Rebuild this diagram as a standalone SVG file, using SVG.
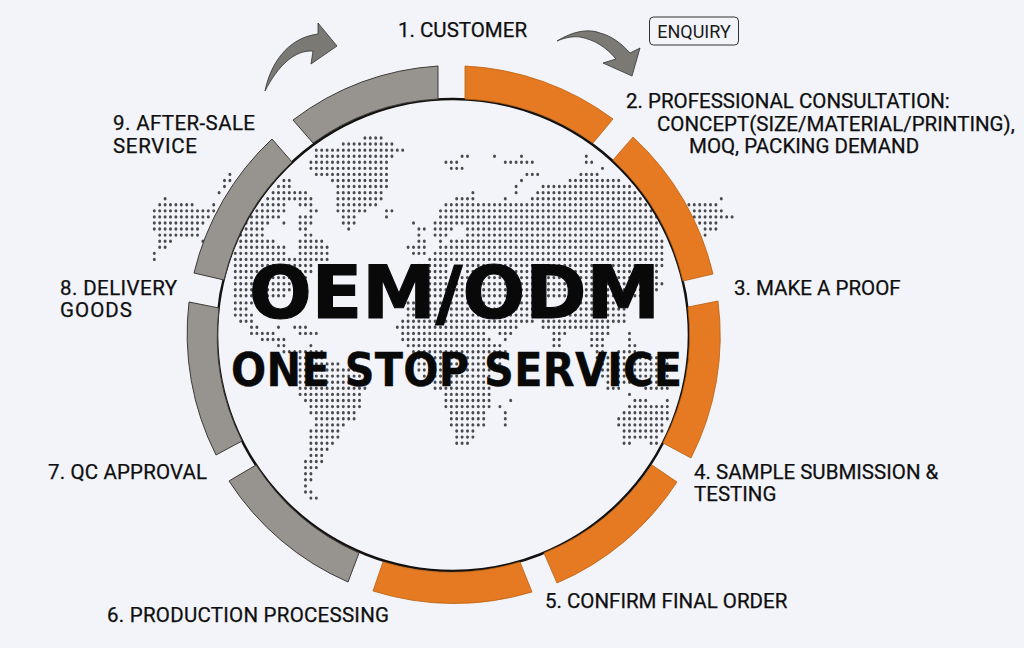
<svg xmlns="http://www.w3.org/2000/svg" width="1024" height="648" viewBox="0 0 1024 648">
<style>
.lb{font-family:Roboto,"Liberation Sans",sans-serif;font-size:20.5px;fill:#0f0f0f;stroke:#0f0f0f;stroke-width:.25}
.h{font-family:"DejaVu Sans",sans-serif;font-weight:700;fill:#090909;stroke:#090909}
.or{fill:#e67a22;stroke:#b9600f;stroke-width:.8}
.gr{fill:#97938e;stroke:#3d3a37;stroke-width:1}
.dots{fill:none;stroke:#4a4b4f;stroke-width:.56;stroke-linecap:round;stroke-dasharray:0 1}
.ar{fill:#7b7974;stroke:#333;stroke-width:.8;stroke-linejoin:miter}
</style>
<rect width="1024" height="648" fill="#f2f4f9"/>
<g id="world-map">
<path class="dots" transform="translate(3.1 131.93) scale(5.4 6.07)" d="M67 1H71M63 2H73M58 3H75M58 4H73M85 4H87M91 4H92M96 4H97M108 4H109M57 5H72M82 5H85M93 5H99M108 5H110M57 6H72M83 6H86M111 6h.1M42 7H43M58 7H72M97 7H100M107 7H111M41 8H43M52 8H54M61 8H72M96 8H97M105 8H115M41 9h.1M51 9H54M62 9H72M95 9H96M100 9H117M40 10H41M50 10H57M62 10H71M87 10H88M95 10H96M99 10H118M30 11H31M49 11H58M62 11H71M84 11H88M93 11h.1M98 11H119M133 11H134M29 12H36M39 12H40M48 12H53M55 12H58M62 12H70M82 12H120M127 12H133M28 13H40M47 13H53M57 13H59M62 13H68M71 13H73M81 13H121M128 13H134M28 14H39M46 14H52M55 14H58M63 14H66M71 14H72M81 14H122M128 14H136M28 15H38M45 15H50M52 15h.1M55 15H58M63 15H66M76 15h.1M80 15H122M129 15H133M28 16H37M45 16H49M55 16H57M64 16H65M77 16H79M80 16H84M86 16H122M130 16H133M29 17H37M44 17H49M56 17H58M77 17H78M80 17H83M86 17H122M130 17H131M29 18H32M37 18h.1M44 18H51M55 18H60M77 18H79M81 18h.1M83 18H123M29 19H31M44 19H53M55 19H61M75 19H79M81 19H123M28 20H29M43 20H53M55 20H61M76 20H79M80 20H123M28 21h.1M43 21H61M79 21H123M43 22H58M77 22H83M86 22H123M43 23H58M77 23H83M86 23H122M43 24H57M77 24H122M43 25H56M77 25H123M43 26H54M77 26H122M43 27H53M77 27H121"/>
<path class="dots" transform="translate(3.1 126) scale(5.4 6.1)" d="M43 29H47M75 29H99M107 29H116M43 30H46M75 30H99M101 30H116M43 31H47M75 31H116M44 32H47M74 32H99M100 32H116M46 33H48M51 33H52M54 33H57M73 33H96M100 33H113M46 34H51M55 34H59M74 34H90M92 34H95M102 34H105M109 34H113M116 34H117M48 35H53M74 35H91M93 35H94M102 35H104M109 35H112M116 35H117M51 36H53M57 36h.1M75 36H93M102 36H104M109 36H112M116 36H118M52 37H60M76 37H94M110 37H112M114 37H118M55 38H60M77 38H94M110 38H124M55 39H63M77 39H93M110 39H124M55 40H67M77 40H92M110 40H124M55 41H67M78 41H91M111 41H124M55 42H67M79 42H91M112 42H124M55 43H68M80 43H91M112 43H115M119 43H124M55 44H67M82 44H91M116 44H117M56 45H67M82 45H91M94 45h.1M117 45H120M123 45h.1M57 46H67M82 46H91M92 46H93M116 46H124M57 47H66M83 47H90M93 47h.1M115 47H124M58 48H66M83 48H90M93 48h.1M114 48H124M58 49H64M83 49H90M93 49h.1M114 49H123M57 50H63M84 50H88M115 50H123M57 51H63M84 51H88M115 51H122M57 52H62M84 52H87M115 52H117M120 52H122M57 53H61M57 54H60M56 55H60M56 56H59M56 57H58M56 58H58M56 59H57M56 60H58M57 61H59"/>
</g>
<circle id="hub-ring" cx="453" cy="335" r="236" fill="none" stroke="#141210" stroke-width="2.6"/>
<g id="connectors">
<path class="ar" d="M265 91C270 66 286 38 318 34L318 23L337 46L311 64L313 51C294 50 278 66 265 91Z"/>
<path class="ar" d="M557 41C575 30 590 29 600 33C612 36 622 44 630 53L640 48L632 76L603 63L616 59C606 47 595 40 580 37C572 36 564 38 557 41Z"/>
</g>
<g id="step-1"><path class="or" d="M465 66A269.5 269.5 0 0 1 613 119L593 143A236 236 0 0 0 465 99Z"/><text class="lb" x="398" y="36.5">1. CUSTOMER</text></g>
<g id="enquiry"><rect x="649.5" y="17" width="89" height="28" rx="4" fill="none" stroke="#333" stroke-width="1"/><text x="694" y="37.5" text-anchor="middle" font-family="Roboto,'Liberation Sans',sans-serif" font-size="18" fill="#1a1a1a">ENQUIRY</text></g>
<g id="step-2"><path class="or" d="M633 137A269.5 269.5 0 0 1 713 274L683 281A236 236 0 0 0 613 160Z"/><text class="lb" x="626" y="108">2. PROFESSIONAL CONSULTATION:</text><text class="lb" x="657" y="131">CONCEPT(SIZE/MATERIAL/PRINTING),</text><text class="lb" x="689" y="153">MOQ, PACKING DEMAND</text></g>
<g id="step-3"><path class="or" d="M718 301A269.5 269.5 0 0 1 691 458L663 443A236 236 0 0 0 688 307Z"/><text class="lb" x="734" y="295">3. MAKE A PROOF</text></g>
<g id="step-4"><path class="or" d="M677 482A269.5 269.5 0 0 1 557 583L544 553A236 236 0 0 0 652 465Z"/><text class="lb" x="694" y="479">4. SAMPLE SUBMISSION &amp;</text><text class="lb" x="694" y="501">TESTING</text></g>
<g id="step-5"><path class="or" d="M532 592A269.5 269.5 0 0 1 373 591L383 562A236 236 0 0 0 520 562Z"/><text class="lb" x="545" y="608">5. CONFIRM FINAL ORDER</text></g>
<g id="step-6"><path class="gr" d="M348 582A269.5 269.5 0 0 1 229 481L256 465A236 236 0 0 0 359 553Z"/><text class="lb" x="107" y="622" textLength="282">6. PRODUCTION PROCESSING</text></g>
<g id="step-7"><path class="gr" d="M216 455A269.5 269.5 0 0 1 189 302L219 308A236 236 0 0 0 242 441Z"/><text class="lb" x="48" y="479" textLength="159">7. QC APPROVAL</text></g>
<g id="step-8"><path class="gr" d="M194 273A269.5 269.5 0 0 1 272 139L292 162A236 236 0 0 0 224 280Z"/><text class="lb" x="60" y="295" textLength="117">8. DELIVERY</text><text class="lb" x="60" y="317" textLength="72">GOODS</text></g>
<g id="step-9"><path class="gr" d="M293 120A269.5 269.5 0 0 1 438 66L438 99A236 236 0 0 0 313 143Z"/><text class="lb" x="113" y="130" textLength="142">9. AFTER-SALE</text><text class="lb" x="113" y="153" textLength="84">SERVICE</text></g>
<g id="title"><text class="h" x="249" y="318" font-size="73.8" stroke-width="1.2">OEM/ODM</text><text class="h" x="231" y="386" font-size="46" letter-spacing=".3" stroke-width=".3" style="font-stretch:condensed">ONE STOP SERVICE</text></g>
</svg>
